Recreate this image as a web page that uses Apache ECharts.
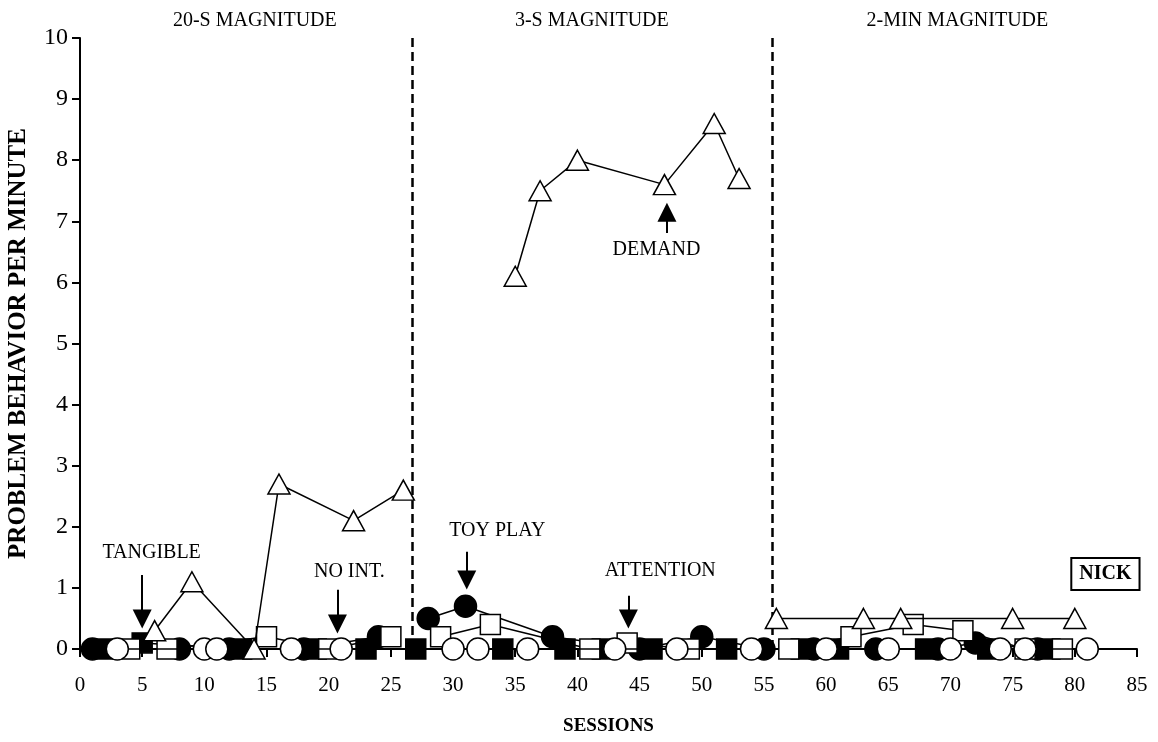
<!DOCTYPE html>
<html><head><meta charset="utf-8">
<script src="https://cdn.jsdelivr.net/npm/echarts@6/dist/echarts.min.js"></script>
<style>html,body{margin:0;padding:0;background:#fff}#c{width:1158px;height:742px}</style>
</head><body><div id="c"></div><script>
// ---- data (session, problem behavior per minute) ----
// Phase 1: 20-s magnitude
const demand1 = [[6,0.3],[9,1.1],[14,0],[16,2.7],[22,2.1],[26,2.6]];
const toy1    = [[1,0],[8,0],[12,0],[18,0],[24,0.2]];
const tang1   = [[2,0],[5,0.1],[13,0],[19,0],[23,0]];
const att1    = [[4,0],[7,0],[15,0.2],[20,0],[25,0.2]];
const noint1  = [[3,0],[10,0],[11,0],[17,0],[21,0]];
// Phase 2: 3-s magnitude
const demand2 = [[35,6.1],[37,7.5],[40,8.0],[47,7.6],[51,8.6],[53,7.7]];
const toy2    = [[28,0.5],[31,0.7],[38,0.2],[45,0],[50,0.2],[55,0]];
const tang2   = [[27,0],[34,0],[39,0],[42,0],[46,0],[52,0]];
const att2    = [[29,0.2],[33,0.4],[41,0],[44,0.1],[49,0]];
const noint2  = [[30,0],[32,0],[36,0],[43,0],[48,0],[54,0]];
// Phase 3: 2-min magnitude
const demand3 = [[56,0.5],[63,0.5],[66,0.5],[75,0.5],[80,0.5]];
const toy3    = [[59,0],[64,0],[69,0],[72,0.1],[77,0]];
const tang3   = [[58,0],[61,0],[68,0],[73,0],[78,0]];
const att3    = [[57,0],[62,0.2],[67,0.4],[71,0.3],[76,0],[79,0]];
const noint3  = [[60,0],[65,0],[70,0],[74,0],[76,0],[81,0]];

const phaseChanges = [26.7, 55.7];
const phaseLabels = [
  {name:'20-S MAGNITUDE', value:[14.1,10.27]},
  {name:'3-S MAGNITUDE', value:[41.2,10.27]},
  {name:'2-MIN MAGNITUDE', value:[70.6,10.27]}
];
const conditionLabels = [
  {name:'TANGIBLE', value:[5.8,1.57]},
  {name:'NO INT.', value:[21.7,1.26]},
  {name:'TOY PLAY', value:[33.6,1.93]},
  {name:'ATTENTION', value:[46.7,1.28]},
  {name:'DEMAND', value:[46.4,6.53]}
];
// arrows: [x, shaft start y, arrowhead centre y]
const arrows = [[5,1.21,0.49],[20.7,0.97,0.41],[31.1,1.59,1.13],[44.1,0.87,0.49],[47.2,6.81,7.15]];
const participant = [{name:'NICK', value:[82.5,1.22]}];

const FONT = 'Liberation Serif';
function mk(data, symbol, filled, size, z){
  return {type:'line', data:data, symbol:symbol, symbolSize:size, showSymbol:true,
    lineStyle:{color:'#000', width:1.5}, itemStyle:{color: filled?'#000':'#fff', borderColor:'#000', borderWidth:1.5},
    z:z, clip:false, animation:false, silent:true};
}
const series = [];
[[tang1,tang2,tang3,'rect',true,[20,20],3],
 [toy1,toy2,toy3,'circle',true,22,4],
 [att1,att2,att3,'rect',false,[20,20],5],
 [noint1,noint2,noint3,'circle',false,22,6],
 [demand1,demand2,demand3,'triangle',false,[22,20],7]].forEach(g=>{
  for(let i=0;i<3;i++) series.push(mk(g[i],g[3],g[4],g[5],g[6]));
});
// phase change lines + arrows
series.push({type:'line', data:[], silent:true, animation:false, z:2,
  markLine:{silent:true, symbol:['none','none'], label:{show:false},
    lineStyle:{color:'#000', width:2.5, type:[9,5]},
    data: phaseChanges.map(x=>({xAxis:x}))}});
series.push({type:'line', data:[], silent:true, animation:false, z:8,
  markLine:{silent:true, symbol:['none','triangle'], symbolSize:19, label:{show:false},
    lineStyle:{color:'#000', width:2, type:'solid'}, itemStyle:{color:'#000'},
    data: arrows.map(a=>[{coord:[a[0],a[1]]},{coord:[a[0],a[2]]}])}});
function textSeries(data, font, weight, extra){
  return {type:'scatter', data:data, symbol:'circle', symbolSize:1, clip:false, silent:true, animation:false, z:9,
    itemStyle:{color:'rgba(0,0,0,0)', opacity:1},
    label:Object.assign({show:true, position:[0,0], align:'center', verticalAlign:'middle', formatter:'{b}', color:'#000', opacity:1, fontFamily:FONT, fontSize:font, fontWeight:weight}, extra||{})};
}
series.push(textSeries(phaseLabels, 20, 'normal'));
series.push(textSeries(conditionLabels, 20, 'normal'));
series.push(textSeries(participant, 20, 'bold', {borderColor:'#000', borderWidth:2, padding:[6,7,4,7], backgroundColor:'#fff'}));

const chart = echarts.init(document.getElementById('c'), null, {renderer:'canvas'});
chart.setOption({
  animation:false,
  backgroundColor:'#fff',
  grid:{left:80, right:21, top:38, bottom:93, containLabel:false, outerBoundsMode:'none'},
  xAxis:{type:'value', min:0, max:85, interval:5,
    name:'SESSIONS', nameLocation:'middle', nameGap:68,
    nameTextStyle:{fontFamily:FONT, fontWeight:'bold', fontSize:19, color:'#000'},
    axisLine:{show:true, onZero:false, lineStyle:{color:'#000', width:2}},
    axisTick:{show:true, length:8, lineStyle:{color:'#000', width:2}},
    axisLabel:{fontFamily:FONT, fontSize:21, color:'#000', margin:26},
    splitLine:{show:false}},
  yAxis:{type:'value', min:0, max:10, interval:1,
    name:'PROBLEM BEHAVIOR PER MINUTE', nameLocation:'middle', nameGap:49,
    nameTextStyle:{fontFamily:FONT, fontWeight:'bold', fontSize:25, color:'#000'},
    axisLine:{show:true, lineStyle:{color:'#000', width:2}},
    axisTick:{show:true, length:8, lineStyle:{color:'#000', width:2}},
    axisLabel:{fontFamily:FONT, fontSize:24, color:'#000', margin:12},
    splitLine:{show:false}},
  series:series
});
</script></body></html>
